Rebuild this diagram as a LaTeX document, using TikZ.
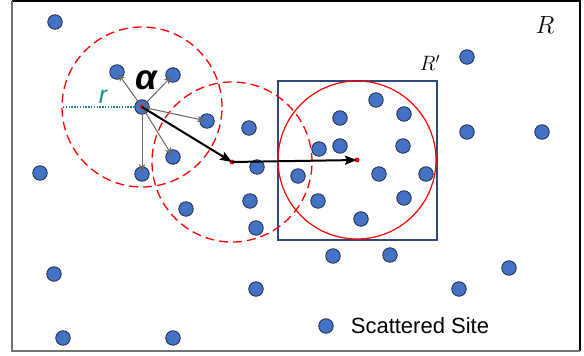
\documentclass[tikz,border=0pt]{standalone}
\usepackage{fontspec}
\setmainfont{Liberation Sans}
\usetikzlibrary{arrows.meta,positioning}
\definecolor{cSite}{HTML}{4472C4}
\definecolor{cEdge}{HTML}{1F2A44}
\definecolor{cBox}{HTML}{2F4A7A}
\definecolor{cRad}{HTML}{178C8C}
\definecolor{cHit}{HTML}{FF0000}

\begin{document}
\begin{tikzpicture}[
  x=1pt,y=-1pt,
  site/.style={circle,draw=cEdge,line width=0.8pt,fill=cSite,inner sep=0pt,minimum size=14.5pt},
  hit/.style={circle,fill=cHit,inner sep=0pt,minimum size=5pt},
  reach/.style={draw=cHit,line width=1.3pt,dash pattern=on 9pt off 5pt},
  probe/.style={-{Stealth[length=8pt,width=6.5pt]},draw=black!60,line width=1pt,shorten >=2pt},
  hop/.style={-{Stealth[length=12pt,width=9pt,inset=2pt]},draw=black,line width=2pt},
  tag/.style={inner sep=1pt}
]
\useasboundingbox (0,0) rectangle (584,356);

%======================= REGION R =======================
\draw[black,line width=1.4pt] (12,1) -- (580,1) -- (580,351);
\draw[black!55,line width=1.6pt] (12,1) -- (12,351) -- (580,351);
\node[tag,font=\fontsize{30}{30}\selectfont] (lR) at (545,25) {$R$};

%======================= CENTRES =======================
\coordinate (p1) at (232,162);
\coordinate (p2) at (357,160);
\coordinate (rEnd) at (63,107);

%======================= SUB-REGION R' =======================
\draw[cBox,line width=1.2pt] (278,81) rectangle (437,240);
\node[tag,font=\fontsize{20}{22}\selectfont] (lRp) at (430,63) {$R'$};

%======================= SEARCH CIRCLES =======================
\draw[reach] (142,107) circle[radius=80pt];
\draw[reach] (p1) circle[radius=80pt];
\draw[draw=cHit,line width=1.2pt] (p2) circle[radius=79pt];

%======================= SITES =======================
\foreach \x/\y [count=\i] in {55/22,467/57,40/173,63/338,173/338,256/289,333/256,390/255,
  509/268,459/289,467/132,542/132,186/209,250/201,256/228,249/128,257/167,
  298/176,319/149,340/118,340/146,376/100,404/114,403/146,379/174,426/174,
  318/201,404/198,361/219,54/274}
  \node[site] (s\i) at (\x,\y) {};

\node[site] (n1) at (117,72) {};
\node[site] (n2) at (173,75) {};
\node[site] (n3) at (207,121) {};
\node[site] (n4) at (173,157) {};
\node[site] (n5) at (142,174) {};
\node[site] (a) at (142,107) {};

%======================= RADIUS r =======================
\draw[cRad,line width=1.4pt,dash pattern=on 1.4pt off 1.4pt] (rEnd) -- (a.center);
\node[tag,text=cRad,font=\itshape\fontsize{25}{26}\selectfont] (lr) at (103,97) {r};
\node[tag,font=\bfseries\itshape\fontsize{35}{36}\selectfont] (lA) at (146,80) {α};

%======================= PROBES AND HOPS =======================
\foreach \n in {n1,n2,n3,n4,n5}
  \draw[probe] (a.center) -- (\n.center);
\node[hit,minimum size=4pt] (h0) at (a.center) {};
\node[hit] (h1) at (p1) {};
\node[hit] (h2) at (p2) {};
\draw[hop] (h0.center) -- (h1.center);
\draw[hop] (h1.center) -- (h2.center);

%======================= LEGEND =======================
\node[site] (key) at (326,326) {};
\node[tag,right=16pt of key,font=\fontsize{22}{24}\selectfont] (keytext) {Scattered Site};

\end{tikzpicture}
\end{document}
